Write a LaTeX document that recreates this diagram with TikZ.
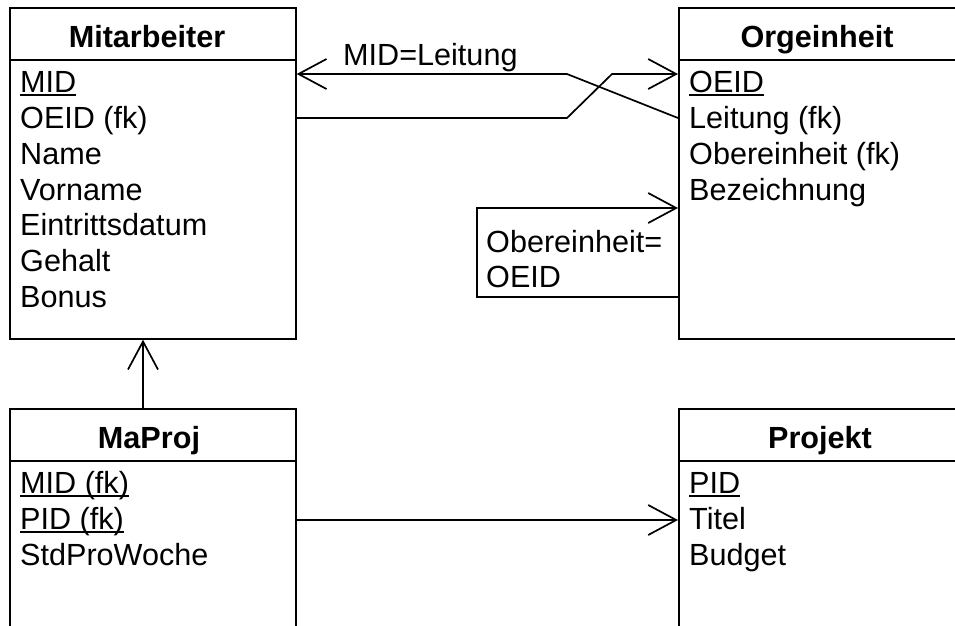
\documentclass[tikz,border=0pt]{standalone}
\usepackage{fontspec}
\setmainfont{Liberation Sans}
\usetikzlibrary{arrows.meta}
\newcommand\keyu[1]{\setbox0\hbox{#1}\rlap{\rule[-3.5pt]{\wd0}{1.3pt}}\box0}
\tikzset{
  lw/.style={line width=1.7pt},
  box/.style={draw, lw, anchor=north west, inner sep=0pt, minimum width=286pt},
  ttl/.style={anchor=base, inner sep=0pt, font=\fontsize{30.6}{36}\selectfont\bfseries},
  attr/.style={anchor=base west, inner sep=0pt, font=\fontsize{30.6}{36}\selectfont},
  conn/.style={lw, line join=miter},
  tip/.style={conn, -{Straight Barb[length=28pt,width=30pt]}},
}
\begin{document}
\begin{tikzpicture}[x=1pt,y=-1pt]
\useasboundingbox (0,0) rectangle (955,625);
\clip (0,0) rectangle (955,625);
% boxes
\node[box, minimum height=331pt] (mit) at (9,7) {};
\node[box, minimum height=331pt, minimum width=290pt] (org) at (678,7) {};
\node[box, minimum height=300pt] (mp) at (9,408) {};
\node[box, minimum height=300pt, minimum width=290pt] (proj) at (678,408) {};
% header lines
\foreach \b in {mit,org,mp,proj}{
  \draw[lw] ([yshift=-53pt]\b.north west) -- ([yshift=-53pt]\b.north east);
}
% titles
\node[ttl] (mitT) at (147,47) {Mitarbeiter};
\node[ttl] (orgT) at (817,47) {Orgeinheit};
\node[ttl] (mpT) at (149,448) {MaProj};
\node[ttl] (projT) at (820,448) {Projekt};
% attributes Mitarbeiter
\node[attr] (m1) at (20,92) {\keyu{MID}};
\node[attr] (m2) at (20,128) {OEID (fk)};
\node[attr] (m3) at (20,164) {Name};
\node[attr] (m4) at (20,200) {Vorname};
\node[attr] (m5) at (20,235) {Eintrittsdatum};
\node[attr] (m6) at (20,271) {Gehalt};
\node[attr] (m7) at (20,307) {Bonus};
% attributes Orgeinheit
\node[attr] (o1) at (689,92) {\keyu{OEID}};
\node[attr] (o2) at (689,128) {Leitung (fk)};
\node[attr] (o3) at (689,164) {Obereinheit (fk)};
\node[attr] (o4) at (689,200) {Bezeichnung};
% attributes MaProj
\node[attr] (p1) at (20,493) {\keyu{MID (fk)}};
\node[attr] (p2) at (20,529) {\keyu{PID (fk)}};
\node[attr] (p3) at (20,565) {StdProWoche};
% attributes Projekt
\node[attr] (q1) at (689,493) {\keyu{PID}};
\node[attr] (q2) at (689,529) {Titel};
\node[attr] (q3) at (689,565) {Budget};
% helper coordinates
\coordinate (yA) at (0,74);
\coordinate (yB) at (0,118);
\coordinate (yC) at (0,208);
\coordinate (yD) at (0,297);
\coordinate (yE) at (0,520);
\coordinate (xV) at (143,0);
\coordinate (bend1) at (567,74);
\coordinate (bend2) at (567,118);
\coordinate (bend3) at (612,74);
\coordinate (loopA) at (477,297);
\coordinate (loopB) at (477,208);
% connectors
\draw[tip] (org.west |- yB) -- (bend1) -- (mit.east |- yA);
\draw[tip] (mit.east |- yB) -- (bend2) -- (bend3) -- (org.west |- yA);
\draw[tip] (org.west |- yD) -- (loopA) -- (loopB) -- (org.west |- yC);
\draw[tip] (mp.north -| xV) -- (mit.south -| xV);
\draw[tip] (mp.east |- yE) -- (proj.west |- yE);
% labels
\node[attr] (l1) at (343,65) {MID=Leitung};
\node[anchor=north west, inner sep=0pt, align=left, font=\fontsize{30.6}{35}\selectfont] (l2) at (486,230) {Obereinheit=\\OEID};
\end{tikzpicture}
\end{document}
